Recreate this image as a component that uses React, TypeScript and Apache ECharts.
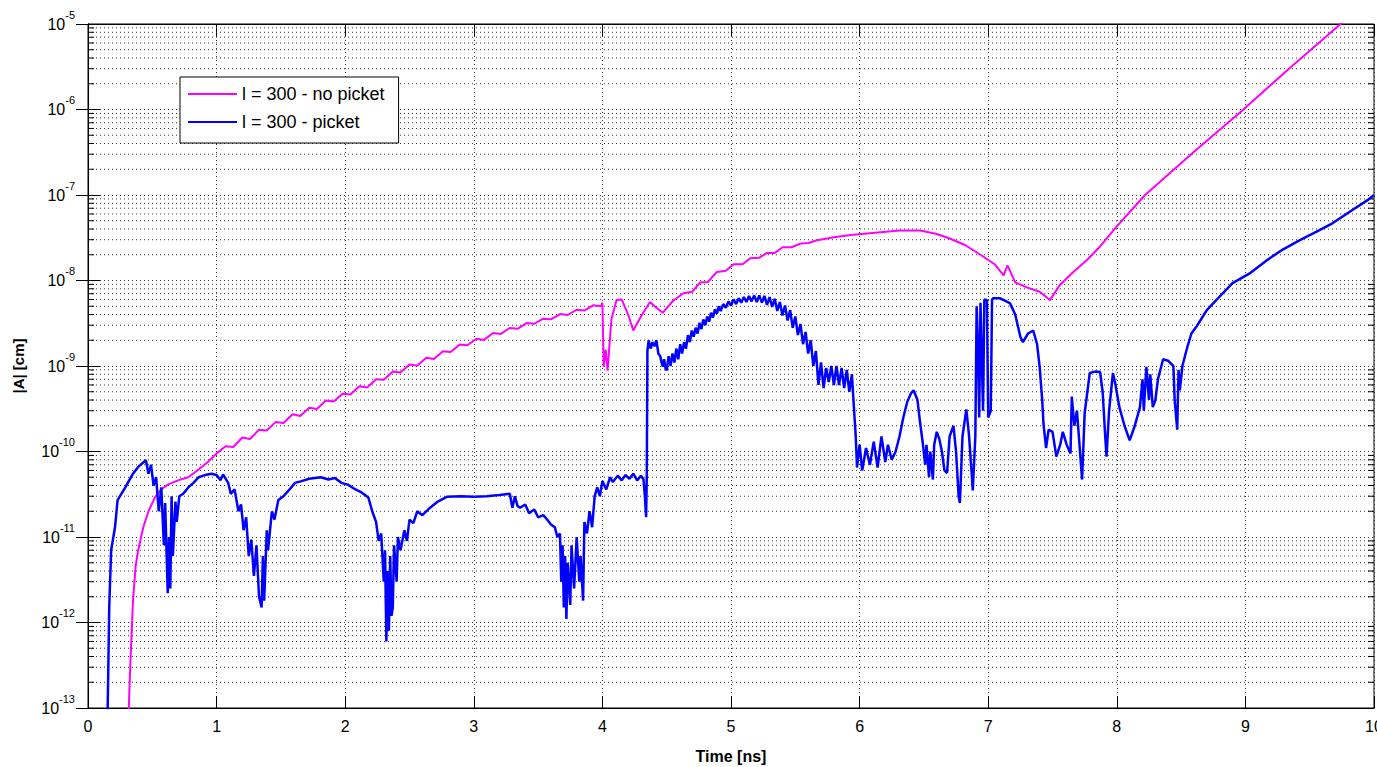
import { useEffect, useRef } from 'react';
import * as echarts from 'echarts';

// x ticks (ns) and y decades (log10 of |A| in cm)
const xTicks = [0, 1, 2, 3, 4, 5, 6, 7, 8, 9, 10];
const decadeExponents = [-13, -12, -11, -10, -9, -8, -7, -6, -5];
const minorMantissas = [2, 3, 4, 5, 6, 7, 8, 9];

const seriesNames = ['l = 300 - no picket', 'l = 300 - picket'];

// |A| [cm] vs Time [ns], no picket
const noPicket: [number, number][] = [
  [0.31, 5e-14], [0.33, 3.5e-13], [0.35, 1.8e-12], [0.37, 4.5e-12], [0.39, 7e-12], [0.43, 1.3e-11],
  [0.47, 2.0e-11], [0.52, 2.9e-11], [0.57, 3.6e-11], [0.62, 4.1e-11], [0.70, 4.6e-11], [0.78, 5.0e-11],
  [0.85, 6.0e-11], [0.93, 7.5e-11], [1.00, 9.5e-11],
  [1.07, 1.15e-10], [1.13, 1.13e-10], [1.20, 1.46e-10], [1.26, 1.4e-10], [1.33, 1.8e-10], [1.39, 1.76e-10],
  [1.46, 2.22e-10], [1.52, 2.16e-10], [1.59, 2.72e-10], [1.65, 2.6e-10], [1.72, 3.25e-10], [1.78, 3.15e-10],
  [1.85, 3.95e-10], [1.91, 3.85e-10], [1.98, 4.75e-10], [2.04, 4.65e-10], [2.11, 5.8e-10], [2.17, 5.6e-10],
  [2.24, 7.0e-10], [2.30, 6.9e-10], [2.37, 8.6e-10], [2.43, 8.4e-10], [2.50, 1.04e-9], [2.56, 1.01e-9],
  [2.63, 1.25e-9], [2.69, 1.21e-9], [2.76, 1.49e-9], [2.82, 1.46e-9], [2.89, 1.78e-9], [2.95, 1.75e-9],
  [3.02, 2.08e-9], [3.08, 2.02e-9], [3.15, 2.43e-9], [3.21, 2.37e-9], [3.28, 2.78e-9], [3.34, 2.72e-9],
  [3.41, 3.18e-9], [3.47, 3.12e-9], [3.54, 3.58e-9], [3.60, 3.52e-9], [3.67, 4.05e-9], [3.73, 3.95e-9],
  [3.80, 4.55e-9], [3.86, 4.45e-9], [3.93, 5.15e-9], [3.99, 5.0e-9],
  [4.00, 5.5e-9], [4.01, 9.8e-10], [4.025, 1.55e-9], [4.04, 8.9e-10], [4.07, 3.5e-9], [4.11, 5.9e-9],
  [4.15, 6.0e-9], [4.20, 4.0e-9], [4.24, 2.6e-9], [4.30, 3.8e-9], [4.37, 5.6e-9], [4.42, 4.8e-9],
  [4.47, 4.2e-9], [4.55, 5.8e-9], [4.63, 7.1e-9], [4.70, 7.4e-9], [4.76, 9.5e-9], [4.82, 9.6e-9],
  [4.89, 1.26e-8], [4.96, 1.30e-8], [5.02, 1.55e-8], [5.09, 1.55e-8], [5.15, 1.82e-8], [5.22, 1.85e-8],
  [5.28, 2.1e-8], [5.34, 2.1e-8], [5.40, 2.45e-8], [5.47, 2.45e-8], [5.54, 2.7e-8], [5.60, 2.75e-8],
  [5.67, 2.95e-8], [5.80, 3.2e-8], [5.93, 3.4e-8], [6.10, 3.6e-8], [6.31, 3.85e-8], [6.47, 3.85e-8],
  [6.60, 3.5e-8], [6.70, 3.1e-8], [6.82, 2.6e-8], [6.94, 2.0e-8], [7.05, 1.55e-8], [7.12, 1.15e-8],
  [7.15, 1.5e-8], [7.21, 9.5e-9], [7.30, 8.3e-9], [7.40, 7.4e-9], [7.48, 5.9e-9], [7.56, 9.0e-9],
  [7.66, 1.25e-8], [7.77, 1.75e-8], [7.87, 2.5e-8], [8.00, 4.3e-8], [8.22, 1.0e-7], [8.60, 3.2e-7],
  [8.96, 9.3e-7], [9.35, 3.1e-6], [9.74, 1.0e-5], [9.85, 1.45e-5],
];

// |A| [cm] vs Time [ns], with picket
const picket: [number, number][] = [
  [0.150, 5e-14], [0.158, 3e-13], [0.165, 1.5e-12], [0.18, 7e-12], [0.21, 1.3e-11], [0.23, 2.7e-11],
  [0.29, 3.8e-11], [0.35, 5.5e-11], [0.39, 6.6e-11], [0.45, 7.9e-11],
  [0.47, 5.5e-11], [0.49, 7.0e-11], [0.51, 4.0e-11], [0.53, 5.0e-11], [0.55, 2.0e-11], [0.57, 3.8e-11],
  [0.59, 8e-12], [0.60, 2.5e-11], [0.62, 2.2e-12], [0.63, 1.0e-11], [0.64, 2.5e-12], [0.65, 3.0e-11],
  [0.66, 6e-12], [0.68, 2.6e-11], [0.69, 1.5e-11], [0.71, 3.0e-11], [0.74, 3.2e-11], [0.78, 3.8e-11],
  [0.82, 4.3e-11], [0.86, 5.0e-11], [0.91, 5.3e-11], [0.96, 5.5e-11], [1.00, 5.3e-11], [1.03, 4.6e-11],
  [1.05, 5.4e-11], [1.09, 4.3e-11], [1.11, 3.2e-11], [1.14, 3.6e-11], [1.17, 2.0e-11], [1.19, 2.4e-11],
  [1.21, 1.2e-11], [1.23, 1.7e-11], [1.25, 6e-12], [1.27, 9.3e-12], [1.29, 3.5e-12], [1.31, 8e-12],
  [1.33, 2e-12], [1.35, 1.5e-12], [1.36, 6e-12], [1.37, 1.8e-12], [1.39, 1.2e-11], [1.40, 7e-12],
  [1.43, 2.0e-11], [1.45, 1.6e-11], [1.48, 2.7e-11], [1.52, 3.0e-11], [1.56, 3.5e-11], [1.61, 4.3e-11],
  [1.66, 4.5e-11], [1.72, 4.8e-11], [1.81, 5.0e-11], [1.87, 4.7e-11], [1.92, 4.9e-11], [1.97, 4.3e-11],
  [2.02, 4.1e-11], [2.08, 3.6e-11], [2.13, 3.3e-11], [2.18, 2.9e-11], [2.21, 2.0e-11], [2.24, 1.5e-11],
  [2.26, 9e-12], [2.28, 1.1e-11], [2.30, 3e-12], [2.31, 7e-12], [2.32, 6e-13], [2.33, 4e-12],
  [2.34, 8e-13], [2.35, 6e-12], [2.36, 1.2e-12], [2.37, 1.5e-12], [2.38, 8e-12], [2.40, 3e-12],
  [2.41, 1.0e-11], [2.43, 7e-12], [2.46, 1.2e-11], [2.48, 9e-12], [2.50, 1.6e-11], [2.53, 1.45e-11],
  [2.56, 2.0e-11], [2.60, 1.8e-11], [2.66, 2.2e-11], [2.72, 2.6e-11], [2.79, 2.95e-11], [2.90, 3.0e-11],
  [3.00, 2.95e-11], [3.10, 3.0e-11], [3.20, 3.1e-11], [3.28, 3.2e-11], [3.30, 2.2e-11], [3.32, 3.0e-11],
  [3.34, 2.3e-11], [3.36, 2.2e-11], [3.40, 2.4e-11], [3.43, 1.9e-11], [3.47, 2.1e-11], [3.50, 1.7e-11],
  [3.54, 1.8e-11], [3.57, 1.6e-11], [3.60, 1.4e-11], [3.63, 1.3e-11], [3.65, 1.0e-11], [3.67, 1.1e-11],
  [3.68, 3e-12], [3.69, 8e-12], [3.70, 1.5e-12], [3.71, 6e-12], [3.72, 1.1e-12], [3.73, 5e-12],
  [3.75, 1.6e-12], [3.76, 8e-12], [3.78, 2.5e-12], [3.80, 1.0e-11], [3.82, 3e-12], [3.83, 6e-12],
  [3.85, 1.8e-12], [3.86, 1.5e-11], [3.88, 1.1e-11], [3.90, 2.0e-11], [3.92, 1.3e-11], [3.94, 3.0e-11],
  [3.96, 3.8e-11], [3.98, 3.0e-11], [4.00, 4.5e-11], [4.03, 3.6e-11], [4.06, 5.0e-11], [4.08, 4.4e-11],
  [4.12, 5.2e-11], [4.15, 4.6e-11], [4.18, 5.3e-11], [4.21, 4.8e-11], [4.24, 5.5e-11], [4.27, 4.6e-11],
  [4.30, 5.2e-11], [4.32, 4.7e-11], [4.33, 3.0e-11], [4.34, 1.7e-11], [4.345, 5e-11], [4.35, 1.5e-9],
  [4.36, 2.0e-9], [4.375, 1.6e-9], [4.39, 1.9e-9], [4.405, 1.7e-9], [4.42, 2.0e-9], [4.435, 1.4e-9],
  [4.45, 1.3e-9], [4.46, 1.1e-9], [4.47, 9.8e-10], [4.48, 1.2e-9], [4.49, 9.5e-10], [4.50, 8.9e-10],
  [4.515, 1.3e-9], [4.53, 1.0e-9], [4.545, 1.4e-9], [4.56, 1.1e-9], [4.575, 1.6e-9], [4.59, 1.2e-9],
  [4.605, 1.8e-9], [4.62, 1.4e-9], [4.635, 1.9e-9], [4.65, 1.6e-9], [4.665, 2.3e-9], [4.68, 1.9e-9],
  [4.695, 2.6e-9], [4.71, 2.2e-9], [4.725, 2.8e-9], [4.74, 2.4e-9], [4.755, 3.2e-9], [4.77, 2.7e-9],
  [4.785, 3.5e-9], [4.80, 3.0e-9], [4.815, 3.8e-9], [4.83, 3.3e-9], [4.845, 4.2e-9], [4.86, 3.7e-9],
  [4.875, 4.6e-9], [4.89, 4.1e-9], [4.905, 5.0e-9], [4.92, 4.4e-9], [4.94, 5.3e-9], [4.96, 4.8e-9],
  [4.98, 5.7e-9], [5.00, 5.1e-9], [5.02, 6.0e-9], [5.04, 5.3e-9], [5.06, 6.2e-9], [5.08, 5.5e-9],
  [5.10, 6.4e-9], [5.12, 5.6e-9], [5.14, 6.6e-9], [5.16, 5.7e-9], [5.18, 6.7e-9], [5.20, 5.6e-9],
  [5.22, 6.7e-9], [5.24, 5.5e-9], [5.26, 6.6e-9], [5.28, 5.2e-9], [5.30, 6.4e-9], [5.32, 4.9e-9],
  [5.34, 6.1e-9], [5.36, 4.4e-9], [5.38, 5.6e-9], [5.40, 3.9e-9], [5.42, 5.1e-9], [5.44, 3.4e-9],
  [5.46, 4.5e-9], [5.48, 2.8e-9], [5.50, 3.8e-9], [5.52, 2.3e-9], [5.54, 3.1e-9], [5.56, 1.8e-9],
  [5.58, 2.5e-9], [5.60, 1.4e-9], [5.62, 2.0e-9], [5.64, 1.0e-9], [5.66, 1.5e-9], [5.68, 6.0e-10],
  [5.70, 1.1e-9], [5.72, 5.5e-10], [5.74, 9.5e-10], [5.76, 6.5e-10], [5.78, 1.0e-9], [5.80, 6.0e-10],
  [5.82, 1.0e-9], [5.84, 6.0e-10], [5.86, 9.5e-10], [5.88, 5.5e-10], [5.90, 9.0e-10], [5.92, 5.0e-10],
  [5.94, 8.0e-10], [5.95, 4.5e-10], [5.97, 1.5e-10], [5.98, 6.5e-11], [6.00, 1.2e-10], [6.02, 6e-11],
  [6.05, 1.1e-10], [6.08, 7e-11], [6.11, 1.3e-10], [6.14, 6.5e-11], [6.17, 1.5e-10], [6.20, 7.5e-11],
  [6.22, 1.2e-10], [6.25, 8e-11], [6.28, 1.0e-10], [6.31, 1.5e-10], [6.34, 2.5e-10], [6.37, 3.8e-10],
  [6.40, 4.8e-10], [6.42, 5.2e-10], [6.45, 4.0e-10], [6.47, 2.2e-10], [6.49, 1.3e-10], [6.51, 7e-11],
  [6.52, 1.2e-10], [6.54, 5e-11], [6.55, 1.0e-10], [6.57, 4.7e-11], [6.58, 1.2e-10], [6.60, 1.7e-10],
  [6.62, 1.4e-10], [6.64, 1.0e-10], [6.66, 6e-11], [6.68, 5.6e-11], [6.70, 1.5e-10], [6.73, 2.0e-10],
  [6.75, 1.0e-10], [6.77, 3e-11], [6.78, 2.5e-11], [6.80, 1.5e-10], [6.83, 3.1e-10], [6.85, 1.6e-10],
  [6.87, 6e-11], [6.88, 3.5e-11], [6.90, 1.5e-10], [6.91, 5e-9], [6.92, 1.8e-9], [6.93, 2.5e-10],
  [6.94, 5.5e-9], [6.96, 3e-10], [6.97, 6e-9], [6.99, 5.9e-9], [7.00, 2.5e-10], [7.02, 3e-10],
  [7.03, 6e-9], [7.04, 6.2e-9], [7.09, 6.2e-9], [7.13, 5.8e-9], [7.17, 5.4e-9], [7.21, 4.0e-9],
  [7.25, 2.2e-9], [7.27, 1.9e-9], [7.31, 2.4e-9], [7.35, 2.6e-9], [7.38, 1.8e-9], [7.40, 9.8e-10],
  [7.42, 4e-10], [7.43, 2.1e-10], [7.45, 1.1e-10], [7.47, 1.8e-10], [7.50, 1.7e-10], [7.53, 8.7e-11],
  [7.56, 1.2e-10], [7.58, 1.7e-10], [7.61, 1.2e-10], [7.64, 9.5e-11], [7.65, 4.4e-10], [7.67, 2.0e-10],
  [7.69, 3.0e-10], [7.71, 1.2e-10], [7.73, 4.7e-11], [7.75, 2.8e-10], [7.79, 8.3e-10], [7.83, 8.6e-10],
  [7.87, 8.5e-10], [7.89, 5e-10], [7.91, 1.5e-10], [7.92, 8.7e-11], [7.94, 3e-10], [7.97, 8.3e-10],
  [7.99, 6e-10], [8.02, 3.3e-10], [8.06, 2.0e-10], [8.10, 1.35e-10], [8.14, 2.0e-10], [8.18, 3.3e-10],
  [8.20, 7e-10], [8.21, 3e-10], [8.23, 9.8e-10], [8.25, 4e-10], [8.26, 8e-10], [8.28, 3.3e-10],
  [8.30, 4e-10], [8.32, 7e-10], [8.36, 1.2e-9], [8.40, 1.15e-9], [8.44, 1.0e-9], [8.45, 4e-10],
  [8.47, 1.8e-10], [8.48, 9e-10], [8.49, 5.2e-10], [8.51, 1.0e-9], [8.55, 1.7e-9], [8.58, 2.4e-9],
  [8.62, 2.9e-9], [8.70, 4.5e-9], [8.80, 6.5e-9], [8.90, 9.3e-9], [9.04, 1.23e-8], [9.17, 1.74e-8],
  [9.29, 2.3e-8], [9.42, 2.95e-8], [9.55, 3.7e-8], [9.68, 4.7e-8], [9.82, 6.5e-8], [9.95, 8.7e-8],
  [10.0, 1.0e-7],
];

const FONT = 'Liberation Sans, Arial, Helvetica, sans-serif';

export default function App() {
  const ref = useRef<HTMLDivElement>(null);

  useEffect(() => {
    if (!ref.current) return;
    const chart = echarts.init(ref.current, null, { renderer: 'svg' });

    const minorValues: [number, number][] = [];
    decadeExponents.slice(0, -1).forEach((e) => {
      minorMantissas.forEach((m) => minorValues.push([0, m * Math.pow(10, e)]));
    });

    const yMin = Math.pow(10, decadeExponents[0]);
    const yMax = Math.pow(10, decadeExponents[decadeExponents.length - 1]);
    const xMin = xTicks[0];
    const xMax = xTicks[xTicks.length - 1];

    const dotted = { color: '#333', width: 1, type: [1, 3] as any };

    const option: any = {
      animation: false,
      backgroundColor: '#fff',
      textStyle: { fontFamily: FONT },
      grid: {
        left: 88,
        right: 3,
        top: 24,
        bottom: 59,
        containLabel: false,
        outerBoundsMode: 'none',
        show: true,
        borderColor: '#000',
        borderWidth: 1,
        backgroundColor: '#fff',
      },
      legend: {
        data: seriesNames,
        orient: 'vertical',
        left: 180,
        top: 77,
        icon: 'rect',
        itemWidth: 49,
        itemHeight: 2,
        itemGap: 8,
        padding: [7, 14, 11, 8],
        borderColor: '#000',
        borderWidth: 1,
        borderRadius: 0,
        backgroundColor: '#fff',
        textStyle: { fontSize: 18, lineHeight: 20, color: '#000', fontFamily: FONT },
      },
      xAxis: [
        {
          type: 'value',
          min: xMin,
          max: xMax,
          interval: 1,
          position: 'bottom',
          name: 'Time [ns]',
          nameLocation: 'middle',
          nameGap: 40,
          nameTextStyle: { fontSize: 16, fontWeight: 'bold', color: '#000', fontFamily: FONT },
          axisLine: { show: true, lineStyle: { color: '#000', width: 1 } },
          axisTick: { show: true, inside: true, length: 12, lineStyle: { color: '#000' } },
          axisLabel: { fontSize: 16, color: '#000', margin: 10, fontFamily: FONT },
          splitLine: { show: true, lineStyle: dotted },
        },
        {
          type: 'value',
          min: xMin,
          max: xMax,
          interval: 1,
          position: 'top',
          axisLine: { show: true, lineStyle: { color: '#000', width: 1 } },
          axisTick: { show: true, inside: true, length: 12, lineStyle: { color: '#000' } },
          axisLabel: { show: false },
          splitLine: { show: false },
        },
      ],
      yAxis: [
        {
          type: 'log',
          logBase: 10,
          min: yMin,
          max: yMax,
          splitNumber: 8,
          position: 'left',
          name: '|A| [cm]',
          nameLocation: 'middle',
          nameGap: 62,
          nameTextStyle: { fontSize: 15, fontWeight: 'bold', color: '#000', fontFamily: FONT },
          axisLine: { show: true, lineStyle: { color: '#000', width: 1 } },
          axisTick: { show: true, inside: true, length: 12, lineStyle: { color: '#000' } },
          axisLabel: {
            margin: 13,
            formatter: (v: number) => `{b|10}{s|${Math.round(Math.log10(v))}}`,
            rich: {
              b: { fontSize: 16, color: '#000', fontFamily: FONT, lineHeight: 30 },
              s: { fontSize: 11, color: '#000', fontFamily: FONT, verticalAlign: 'top' },
            },
          },
          splitLine: { show: true, lineStyle: dotted },
        },
        {
          type: 'log',
          logBase: 10,
          min: yMin,
          max: yMax,
          splitNumber: 8,
          position: 'right',
          axisLine: { show: true, lineStyle: { color: '#000', width: 1 } },
          axisTick: { show: true, inside: true, length: 12, lineStyle: { color: '#000' } },
          axisLabel: { show: false },
          splitLine: { show: false },
        },
      ],
      series: [
        {
          type: 'custom',
          name: 'minor',
          xAxisIndex: 0,
          yAxisIndex: 0,
          silent: true,
          z: 1,
          clip: false,
          data: minorValues,
          renderItem: (_params: any, api: any) => {
            const v = api.value(1);
            const a = api.coord([xMin, v]);
            const b = api.coord([xMax, v]);
            return {
              type: 'group',
              children: [
                {
                  type: 'line',
                  shape: { x1: a[0], y1: a[1], x2: b[0], y2: b[1] },
                  style: { stroke: '#333', lineWidth: 1, lineDash: [1, 3] },
                },
                {
                  type: 'line',
                  shape: { x1: a[0], y1: a[1], x2: a[0] + 6, y2: a[1] },
                  style: { stroke: '#000', lineWidth: 1 },
                },
                {
                  type: 'line',
                  shape: { x1: b[0] - 6, y1: b[1], x2: b[0], y2: b[1] },
                  style: { stroke: '#000', lineWidth: 1 },
                },
              ],
            };
          },
        },
        {
          type: 'line',
          name: seriesNames[0],
          data: noPicket,
          showSymbol: false,
          symbol: 'none',
          z: 3,
          color: '#ff00ff',
          lineStyle: { color: '#ff00ff', width: 2 },
        },
        {
          type: 'line',
          name: seriesNames[1],
          data: picket,
          showSymbol: false,
          symbol: 'none',
          z: 4,
          color: '#0000ff',
          lineStyle: { color: '#0000ff', width: 2.5 },
        },
      ],
    };

    chart.setOption(option);
    return () => chart.dispose();
  }, []);

  return (
    <div
      ref={ref}
      style={{ position: 'absolute', left: 0, top: 0, width: 1377, height: 767, background: '#fff' }}
    />
  );
}
